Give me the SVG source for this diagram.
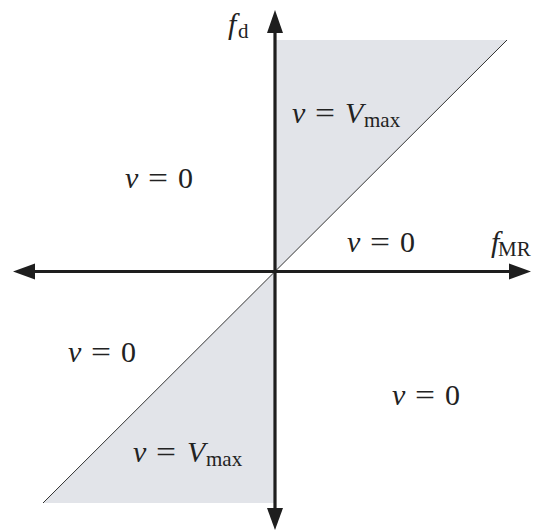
<svg xmlns="http://www.w3.org/2000/svg" width="537" height="531" viewBox="0 0 537 531">
<defs>
<style>
.region{fill:#e2e4e9;stroke:none}
.diag{stroke:#333;stroke-width:1;fill:none}
.axis{stroke:#1e1e1e;stroke-width:3.2;fill:none}
.head{fill:#1e1e1e}
text{font-family:"Liberation Serif","Times New Roman",serif;fill:#222}
.m{font-size:30px}
.i{font-style:italic}
.s{font-size:21px}
</style>
</defs>
<rect width="537" height="531" fill="#ffffff"/>
<g id="region-upper">
<polygon class="region" points="275,40 507,40 275,271.5"/>
</g>
<g id="region-lower">
<polygon class="region" points="43,503 275,503 275,271.5"/>
</g>
<g id="connectors">
<line class="diag" x1="507" y1="40" x2="43" y2="503"/>
<line class="axis" x1="32" y1="271.5" x2="512" y2="271.5"/>
<line class="axis" x1="275" y1="30" x2="275" y2="512"/>
<polygon class="head" points="13,271.5 35,263.5 35,279.5"/>
<polygon class="head" points="531,271.5 509,263.5 509,279.5"/>
<polygon class="head" points="275,10 267,33 283,33"/>
<polygon class="head" points="275,530 267,508 283,508"/>
</g>
<g id="label-fd">
<text class="m i" x="228" y="34">f</text>
<text class="s" x="238" y="38">d</text>
</g>
<g id="label-fMR">
<text class="m i" x="491" y="252">f</text>
<text class="s" x="498" y="256">MR</text>
</g>
<g id="label-upper-vmax">
<text class="m i" x="292" y="123">v</text>
<text class="m" x="325" y="123" text-anchor="middle" textLength="20" lengthAdjust="spacingAndGlyphs">=</text>
<text class="m i" x="345" y="123">V</text>
<text class="s" x="364" y="127">max</text>
</g>
<g id="label-upper-left">
<text class="m i" x="125" y="188">v</text>
<text class="m" x="158" y="188" text-anchor="middle" textLength="20" lengthAdjust="spacingAndGlyphs">=</text>
<text class="m" x="178" y="188">0</text>
</g>
<g id="label-right">
<text class="m i" x="347" y="252">v</text>
<text class="m" x="380" y="252" text-anchor="middle" textLength="20" lengthAdjust="spacingAndGlyphs">=</text>
<text class="m" x="400" y="252">0</text>
</g>
<g id="label-lower-left">
<text class="m i" x="68" y="362">v</text>
<text class="m" x="101" y="362" text-anchor="middle" textLength="20" lengthAdjust="spacingAndGlyphs">=</text>
<text class="m" x="121" y="362">0</text>
</g>
<g id="label-lower-right">
<text class="m i" x="392" y="405">v</text>
<text class="m" x="425" y="405" text-anchor="middle" textLength="20" lengthAdjust="spacingAndGlyphs">=</text>
<text class="m" x="445" y="405">0</text>
</g>
<g id="label-lower-vmax">
<text class="m i" x="133" y="462">v</text>
<text class="m" x="166" y="462" text-anchor="middle" textLength="20" lengthAdjust="spacingAndGlyphs">=</text>
<text class="m i" x="187" y="462">V</text>
<text class="s" x="206" y="466">max</text>
</g>
</svg>
